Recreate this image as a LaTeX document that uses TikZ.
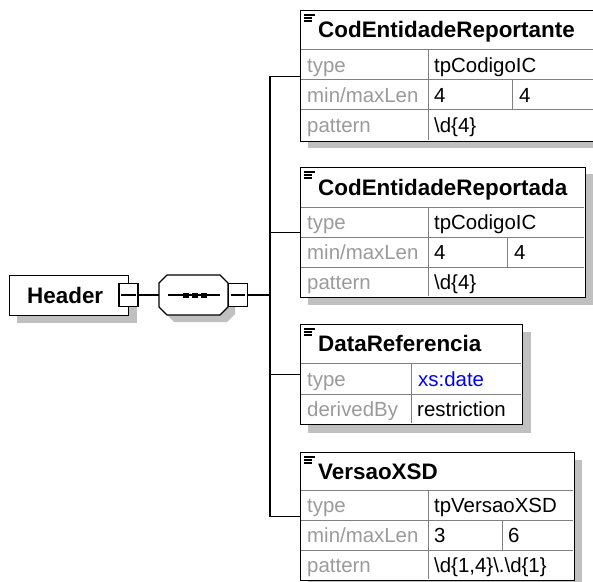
\documentclass[tikz,border=0pt]{standalone}
\usepackage{fontspec}
\setmainfont{Liberation Sans}
\definecolor{shadowc}{RGB}{192,192,192}
\definecolor{gridc}{RGB}{128,128,128}
\definecolor{lblc}{RGB}{155,155,155}
\definecolor{blueval}{RGB}{0,0,255}
\tikzset{
  elbox/.style={draw=black, line width=1.3bp, fill=white, inner sep=0pt, anchor=north west},
  shadowfill/.style={fill=shadowc, draw=none},
  gridline/.style={draw=gridc, line width=1bp},
  conn/.style={draw=black, line width=1.2bp},
  lbl/.style={anchor=base west, inner sep=0pt, text=lblc, font=\fontsize{20.5}{24}\selectfont},
  val/.style={anchor=base west, inner sep=0pt, text=black, font=\fontsize{20.5}{24}\selectfont},
  elname/.style={anchor=base west, inner sep=0pt, text=black, font=\bfseries\fontsize{22.5}{27}\selectfont},
  iconline/.style={draw=black, line width=1.1bp},
  minusbox/.style={draw=black, line width=1.1bp, fill=white, minimum width=19bp, minimum height=23bp, inner sep=0pt}
}
\begin{document}
\begin{tikzpicture}[x=1bp,y=-1bp]
\useasboundingbox (0,0) rectangle (593,582);

% ---------- Header element ----------
\fill[shadowfill] (17,283) rectangle (137,323);
\node[elbox, minimum width=119bp, minimum height=40bp] (hdr) at (9,275) {};
\node[elname] (hdrtxt) at (27,303) {Header};
\node[minusbox] (hm) at (128.5,295) {};
\draw[conn] ([xshift=3bp]hm.west) -- ([xshift=-3bp]hm.east);

% ---------- Sequence compositor ----------
\fill[shadowfill] (166,290) -- (174,282) -- (227,282) -- (235,290) -- (235,314) -- (227,322) -- (174,322) -- (166,314) -- cycle;
\draw[conn, fill=white] (159,283) -- (167,275) -- (220,275) -- (228,283) -- (228,307) -- (220,315) -- (167,315) -- (159,307) -- cycle;
\coordinate (seqL) at (159,295);
\draw[conn] (168,295) -- (220,295);
\fill[black] (183,292.5) rectangle (189,297.5);
\fill[black] (192,292.5) rectangle (198,297.5);
\fill[black] (201,292.5) rectangle (207,297.5);
\node[minusbox] (sm) at (238,295) {};
\draw[conn] ([xshift=3bp]sm.west) -- ([xshift=-3bp]sm.east);

\coordinate (bus) at (270,295);

% ---------- Box 1: CodEntidadeReportante ----------
\fill[shadowfill] (308,17) rectangle (602,148);
\node[elbox, minimum width=294bp, minimum height=131bp] (b1) at (300,10) {};
\draw[gridline] (300.6,50) -- (593.4,50);
\draw[gridline] (300.6,80) -- (593.4,80);
\draw[gridline] (300.6,110) -- (593.4,110);
\draw[gridline] (428,50) -- (428,140.4);
\draw[gridline] (512,80) -- (512,110);
\draw[iconline] (304,15) -- (315,15);
\draw[iconline] (304,18) -- (312,18);
\draw[iconline] (304,21) -- (312,21);
\node[elname] (n1) at (318,38) {CodEntidadeReportante};
\node[lbl] (l1a) at (307,72.5) {type};
\node[val] (v1a) at (434,72.5) {tpCodigoIC};
\node[lbl] (l1b) at (307,102.5) {min/maxLen};
\node[val] (v1b) at (434,102.5) {4};
\node[val] (v1c) at (519,102.5) {4};
\node[lbl] (l1c) at (307,133) {pattern};
\node[val] (v1d) at (434,133) {\textbackslash d\{4\}};

% ---------- Box 2: CodEntidadeReportada ----------
\fill[shadowfill] (308,174) rectangle (593,305);
\node[elbox, minimum width=285bp, minimum height=130bp] (b2) at (300,167) {};
\draw[gridline] (300.6,207) -- (584.4,207);
\draw[gridline] (300.6,237) -- (584.4,237);
\draw[gridline] (300.6,267) -- (584.4,267);
\draw[gridline] (428,207) -- (428,296.4);
\draw[gridline] (507,237) -- (507,267);
\draw[iconline] (304,172) -- (315,172);
\draw[iconline] (304,175) -- (312,175);
\draw[iconline] (304,178) -- (312,178);
\node[elname] (n2) at (318,195) {CodEntidadeReportada};
\node[lbl] (l2a) at (307,229.5) {type};
\node[val] (v2a) at (434,229.5) {tpCodigoIC};
\node[lbl] (l2b) at (307,259.5) {min/maxLen};
\node[val] (v2b) at (434,259.5) {4};
\node[val] (v2c) at (514,259.5) {4};
\node[lbl] (l2c) at (307,289.5) {pattern};
\node[val] (v2d) at (434,289.5) {\textbackslash d\{4\}};

% ---------- Box 3: DataReferencia ----------
\fill[shadowfill] (308,332) rectangle (531,433);
\node[elbox, minimum width=222bp, minimum height=100bp] (b3) at (300,324) {};
\draw[gridline] (300.6,363) -- (521.4,363);
\draw[gridline] (300.6,394) -- (521.4,394);
\draw[gridline] (411,363) -- (411,423.4);
\draw[iconline] (304,329) -- (315,329);
\draw[iconline] (304,332) -- (312,332);
\draw[iconline] (304,335) -- (312,335);
\node[elname] (n3) at (318,351.5) {DataReferencia};
\node[lbl] (l3a) at (307,386) {type};
\node[val, text=blueval] (v3a) at (418,386) {xs:date};
\node[lbl] (l3b) at (307,416.5) {derivedBy};
\node[val] (v3b) at (417,416.5) {restriction};

% ---------- Box 4: VersaoXSD ----------
\fill[shadowfill] (308,460) rectangle (582,588);
\node[elbox, minimum width=274bp, minimum height=128bp] (b4) at (300,452) {};
\draw[gridline] (300.6,490) -- (573.4,490);
\draw[gridline] (300.6,520) -- (573.4,520);
\draw[gridline] (300.6,550) -- (573.4,550);
\draw[gridline] (428,490) -- (428,579.4);
\draw[gridline] (502,520) -- (502,550);
\draw[iconline] (304,457) -- (315,457);
\draw[iconline] (304,460) -- (312,460);
\draw[iconline] (304,463) -- (312,463);
\node[elname] (n4) at (318,479) {VersaoXSD};
\node[lbl] (l4a) at (307,512.5) {type};
\node[val] (v4a) at (434,512.5) {tpVersaoXSD};
\node[lbl] (l4b) at (307,542.5) {min/maxLen};
\node[val] (v4b) at (434,542.5) {3};
\node[val] (v4c) at (508,542.5) {6};
\node[lbl] (l4c) at (307,572.5) {pattern};
\node[val] (v4d) at (434,572.5) {\textbackslash d\{1,4\}\textbackslash .\textbackslash d\{1\}};

% ---------- Connectors ----------
\draw[conn] (hm.east) -- (seqL);
\draw[conn] (sm.east) -- (bus);
\draw[conn] (b1.west -| bus) -- (b4.west -| bus);
\draw[conn] (b1.west -| bus) -- (b1.west);
\draw[conn] (b2.west -| bus) -- (b2.west);
\draw[conn] (b3.west -| bus) -- (b3.west);
\draw[conn] (b4.west -| bus) -- (b4.west);
\end{tikzpicture}
\end{document}
